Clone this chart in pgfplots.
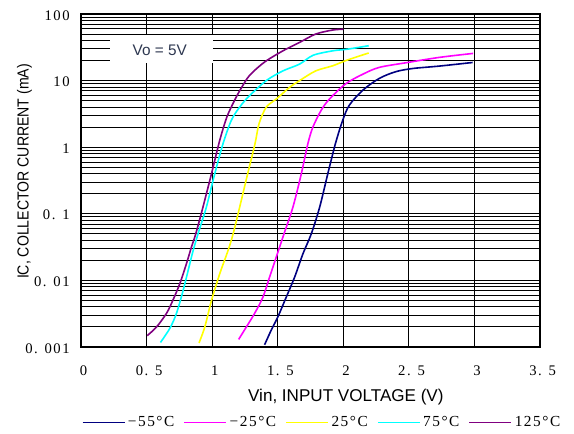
\documentclass[border=0pt]{standalone}
\usepackage{fontspec}
\usepackage{pgfplots}
\pgfplotsset{compat=1.18}
\setmainfont{Liberation Serif}
\newfontfamily\labelfont{Liberation Sans}
\newfontfamily\numfont[LetterSpace=10]{Liberation Serif}

\definecolor{cNavy}{RGB}{0,0,128}
\definecolor{cMag}{RGB}{255,0,255}
\definecolor{cYel}{RGB}{255,255,0}
\definecolor{cCyan}{RGB}{0,255,255}
\definecolor{cPurp}{RGB}{128,0,128}
\definecolor{boxtext}{RGB}{45,55,80}

\begin{document}
\begin{tikzpicture}
\path[use as bounding box] (-60.75pt,-65.25pt) rectangle (369.75pt,260.25pt);
\begin{axis}[
  at={(0,0)}, anchor=south west,
  scale only axis, width=344.25pt, height=249.75pt,
  xmin=0, xmax=3.5, ymode=log, ymin=0.001, ymax=100,
  xtick={0,0.5,1,1.5,2,2.5,3,3.5},
  xticklabels={0,{0. 5},1,{1. 5},2,{2. 5},3,{3. 5}},
  ytick={0.001,0.01,0.1,1,10,100},
  yticklabels={{0. 001},{0. 01},{0. 1},1,10,100},
  minor ytick={0.002,0.003,0.004,0.005,0.006,0.007,0.008,0.009,
               0.02,0.03,0.04,0.05,0.06,0.07,0.08,0.09,
               0.2,0.3,0.4,0.5,0.6,0.7,0.8,0.9,
               2,3,4,5,6,7,8,9,
               20,30,40,50,60,70,80,90},
  xmajorgrids, ymajorgrids, yminorgrids,
  major grid style={black, line width=0.7pt},
  minor grid style={black, line width=0.7pt},
  major tick length=0pt, minor tick length=0pt,
  axis line style={black, line width=0.8pt},
  tick label style={font=\numfont\fontsize{11}{13}\selectfont},
  xticklabel style={yshift=-10.5pt, xshift=2pt},
  yticklabel style={xshift=-5pt, yshift=-1pt},
  xlabel={Vin, INPUT VOLTAGE (V)},
  xlabel style={font=\labelfont\fontsize{12.8}{14}\selectfont,
                at={(axis description cs:0.577,-0.150)}, anchor=center},
  ylabel={\scalebox{0.88}[1]{IC, COLLECTOR CURRENT (mA)}},
  ylabel style={font=\labelfont\fontsize{12}{14}\selectfont,
                at={(axis description cs:-0.123,0.527)}, anchor=center},
  legend columns=5,
  legend style={at={(0.526,-0.227)}, anchor=center, draw=none, fill=none,
                font=\numfont\fontsize{11.5}{13}\selectfont,
                /tikz/every even column/.append style={column sep=5pt}},
  legend image code/.code={\draw[#1, line width=1pt] (0pt,0pt) -- (31.5pt,0pt);},
  every axis plot/.append style={line width=1.2pt, smooth},
]
% label box for the supply condition
\fill[white] (axis cs:0.22,48.3) rectangle (axis cs:1.004,18.5);
\node[font=\labelfont\fontsize{11.5}{13}\selectfont, text=boxtext]
  at (axis cs:0.601,28.8) {Vo = 5V};

% -55 C
\addplot[cNavy] coordinates {
 (1.40,0.00108) (1.451,0.0018) (1.50,0.0028) (1.565,0.0056) (1.629,0.0112)
 (1.692,0.025) (1.756,0.050) (1.82,0.126) (1.882,0.40) (1.94,1.13)
 (1.996,2.55) (2.047,4.3) (2.15,7.2) (2.275,10.8) (2.40,13.6) (2.53,15.2)
 (2.73,16.5) (2.986,18.7)};
\addlegendentry{−55°C}
% -25 C
\addplot[cMag] coordinates {
 (1.202,0.0013) (1.261,0.0020) (1.324,0.0032) (1.387,0.0056) (1.438,0.0112)
 (1.489,0.0224) (1.54,0.045) (1.616,0.126) (1.68,0.40) (1.73,1.13)
 (1.768,2.0) (1.832,3.6) (1.895,5.3) (2.02,9.0) (2.15,12.5) (2.275,15.8)
 (2.49,18.7) (2.732,22.3) (2.99,25.6)};
\addlegendentry{−25°C}
% 25 C
\addplot[cYel] coordinates {
 (0.90,0.00115) (0.944,0.0020) (0.995,0.0050) (1.058,0.0126) (1.121,0.028)
 (1.16,0.050) (1.21,0.126) (1.271,0.40) (1.327,1.13) (1.358,2.27)
 (1.413,4.0) (1.49,5.3) (1.59,7.9) (1.667,10) (1.79,14) (1.92,16.7)
 (2.02,20) (2.194,26)};
\addlegendentry{25°C}
% 75 C
\addplot[cCyan] coordinates {
 (0.606,0.00117) (0.677,0.0019) (0.728,0.0032) (0.779,0.0071) (0.817,0.0141)
 (0.855,0.028) (0.90,0.056) (0.956,0.126) (1.02,0.40) (1.083,1.13)
 (1.147,2.55) (1.21,4.0) (1.28,5.8) (1.413,10) (1.54,14) (1.667,17.7)
 (1.77,24) (1.92,28) (2.03,29.6) (2.194,33.4)};
\addlegendentry{75°C}
% 125 C
\addplot[cPurp] coordinates {
 (0.505,0.00148) (0.576,0.0020) (0.652,0.0032) (0.70,0.0050) (0.753,0.0089)
 (0.804,0.0178) (0.842,0.0316) (0.875,0.050) (0.93,0.126) (0.995,0.40)
 (1.058,1.27) (1.113,2.86) (1.172,5.1) (1.22,7.6) (1.286,12.0) (1.40,19.0)
 (1.54,28) (1.667,37.5) (1.79,50) (1.92,57.5) (2.0,59)};
\addlegendentry{125°C}
\end{axis}
\end{tikzpicture}
\end{document}
